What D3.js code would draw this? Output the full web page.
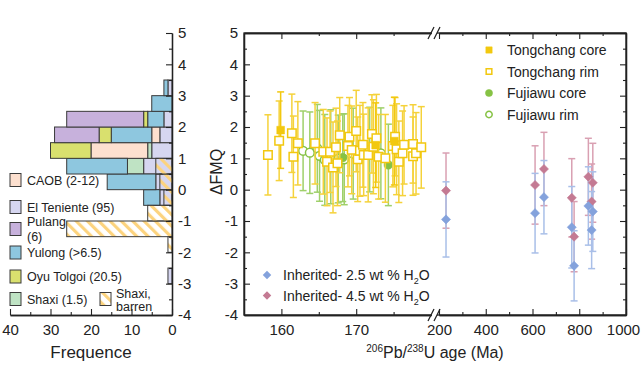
<!DOCTYPE html>
<html>
<head>
<meta charset="utf-8">
<script src="https://cdn.jsdelivr.net/npm/d3@7"></script>
<style>
  body { margin: 0; background: #fff; }
  svg { display: block; font-family: 'Liberation Sans', Arial, sans-serif; }
</style>
</head>
<body>
<div id="chart"></div>
<script>
'use strict';

// ---- histogram (bins of 0.5 in dFMQ, lower edges) ----
var binLows = [-3.0, -2.5, -2.0, -1.5, -1.0, -0.5, 0.0, 0.5, 1.0, 1.5, 2.0, 2.5, 3.0];
var elTeniente = [1, 0, 0, 0, 0, 3, 4, 7, 5, 3, 2, 0, 1];
var shaxi      = [0, 0, 0, 0, 0, 0, 0, 4, 1, 0, 0, 0, 0];
var caob       = [0, 0, 0, 0, 0, 0, 0, 0, 14, 2, 0, 0, 0];
var yulong     = [0, 0, 0, 0, 0, 4, 12, 15, 0, 10, 4, 5, 1];
var oyuTolgoi  = [0, 0, 0, 0, 0, 0, 0, 0, 10, 3, 1, 0, 0];
var pulang     = [0, 0, 0, 0, 0, 0, 0, 0, 0, 11, 19, 0, 0];
var shaxiBarren = [0, 0, 1, 26, 6, 2, 3, 4, 0, 0, 0, 0, 0];

var histKeys = ['El Teniente (95)', 'Shaxi (1.5)', 'CAOB (2-12)', 'Yulong (>6.5)', 'Oyu Tolgoi (20.5)', 'Pulang (6)'];
var histColors = ['#d6d6f0', '#bfe3c4', '#fde0cf', '#8ec7df', '#d9e06e', '#c7b1dc'];
var freqTicks = [40, 30, 20, 10, 0];
var fmqTicks = [-4, -3, -2, -1, 0, 1, 2, 3, 4, 5];

// ---- zircon data: age (Ma), dFMQ, error ----
var tcRimAge = [158.2, 159.7, 161.4, 161.6, 162.2, 164.5, 165.6, 166.1, 166.5, 166.9, 167.3, 167.5, 167.8,
  168.9, 169.1, 169.4, 170.0, 170.2, 170.5, 170.9, 171.0, 171.6, 172.1, 172.3, 172.7, 173.0, 173.9,
  174.9, 175.2, 175.4, 175.7, 176.2, 176.4, 177.6, 177.6, 178.0, 178.7];
var tcRimFmq = [1.11, 1.56, 1.80, 1.05, 1.48, 1.48, 1.21, 0.89, 1.21, 0.71, 1.35, 0.84, 1.74,
  1.39, 1.69, 1.27, 1.87, 0.97, 1.24, 1.43, 1.11, 1.11, 1.78, 1.37, 1.64, 1.05, 1.00,
  1.39, 1.69, 1.29, 0.89, 1.16, 1.43, 1.46, 1.07, 1.16, 1.35];
var tcRimErr = [1.28, 1.27, 1.25, 1.30, 1.33, 1.30, 1.35, 1.40, 1.30, 1.45, 1.25, 1.35, 1.20,
  1.30, 1.25, 1.40, 1.30, 1.35, 1.45, 1.35, 1.30, 1.50, 1.25, 1.50, 1.40, 1.35, 1.40,
  1.30, 1.25, 1.45, 1.30, 1.35, 1.25, 1.25, 1.25, 1.30, 1.30];

var tcCoreAge = [159.9, 172.6, 175.1];
var tcCoreFmq = [1.90, 1.42, 1.55];
var tcCoreErr = [1.22, 1.35, 1.40];

var fjRimAge = [162.9, 163.8, 164.8, 165.1, 165.8, 166.6, 167.6, 168.4, 169.6, 171.8, 173.3];
var fjRimFmq = [1.24, 1.18, 1.32, 1.08, 0.95, 1.05, 0.98, 0.97, 1.15, 1.28, 1.16];
var fjRimErr = [1.27, 1.30, 1.40, 1.45, 1.45, 1.50, 1.40, 1.45, 1.45, 1.35, 1.45];

var fjCoreAge = [168.2, 174.3];
var fjCoreFmq = [1.02, 0.79];
var fjCoreErr = [1.40, 1.30];

var inhAge = [230, 611, 649, 768, 778, 839, 853, 858];
var inh25Fmq = [-0.95, -0.75, -0.24, -1.20, -2.43, -0.52, -1.29, -0.70];
var inh25Err = [1.20, 1.27, 1.17, 1.30, 1.12, 1.25, 1.23, 1.27];
var inh45Fmq = [-0.03, 0.15, 0.66, -0.26, -1.50, 0.41, -0.38, 0.22];
var inh45Err = [1.20, 1.25, 1.17, 1.25, 1.12, 1.23, 1.20, 1.26];

var ageTicksLeft = [160, 170];
var ageTicksRight = [200, 400, 600, 800, 1000];

// ---- setup ----
var W = 641, H = 376;
var yellow = '#f2c80f', green = '#86c244', blue = '#84a2dc', pink = '#c47a93';
var blueErr = '#a9bfe8', pinkErr = '#d9a0b2', greenErr = '#9fd06a', yellowErr = '#f5d23a';

var svg = d3.select('#chart').append('svg').attr('width', W).attr('height', H);

var defs = svg.append('defs');
var pat = defs.append('pattern')
  .attr('id', 'hatch')
  .attr('patternUnits', 'userSpaceOnUse')
  .attr('width', 8).attr('height', 8)
  .attr('patternTransform', 'rotate(-45)');
pat.append('rect').attr('x', 0).attr('y', 0).attr('width', 3.2).attr('height', 8).attr('fill', '#fcd37e');

var y = d3.scaleLinear().domain([-4, 5]).range([315, 33]);
var xFreq = d3.scaleLinear().domain([40, 0]).range([10, 172]);
var xL = d3.scaleLinear().domain([155, 180]).range([244, 431]);
var xR = d3.scaleLinear().domain([200, 1000]).range([439, 626]);
function xAge(a) { return a >= 190 ? xR(a) : xL(a); }

function fmt(d) { return String(d); }

// ---- left: histogram ----
var rows = binLows.map(function (b, i) {
  return {
    bin: b,
    'El Teniente (95)': elTeniente[i],
    'Shaxi (1.5)': shaxi[i],
    'CAOB (2-12)': caob[i],
    'Yulong (>6.5)': yulong[i],
    'Oyu Tolgoi (20.5)': oyuTolgoi[i],
    'Pulang (6)': pulang[i]
  };
});
var stacked = d3.stack().keys(histKeys)(rows);

var hist = svg.append('g');
stacked.forEach(function (layer, k) {
  hist.selectAll(null)
    .data(layer.filter(function (d) { return d[1] > d[0]; }))
    .enter().append('rect')
    .attr('x', function (d) { return xFreq(d[1]); })
    .attr('y', function (d) { return y(d.data.bin + 0.5); })
    .attr('width', function (d) { return xFreq(d[0]) - xFreq(d[1]); })
    .attr('height', function (d) { return y(d.data.bin) - y(d.data.bin + 0.5); })
    .attr('fill', histColors[k])
    .attr('stroke', '#3a3a3a')
    .attr('stroke-width', 1);
});

// barren overlay from zero
hist.selectAll(null)
  .data(binLows.map(function (b, i) { return { bin: b, v: shaxiBarren[i] }; })
    .filter(function (d) { return d.v > 0; }))
  .enter().append('rect')
  .attr('x', function (d) { return xFreq(d.v); })
  .attr('y', function (d) { return y(d.bin + 0.5); })
  .attr('width', function (d) { return xFreq(0) - xFreq(d.v); })
  .attr('height', function (d) { return y(d.bin) - y(d.bin + 0.5); })
  .attr('fill', 'url(#hatch)')
  .attr('stroke', '#3a3a3a')
  .attr('stroke-width', 1);

// left axes
svg.append('g').attr('transform', 'translate(' + xFreq(0) + ',0)')
  .call(d3.axisRight(y).tickValues(fmqTicks).tickFormat(fmt).tickSizeInner(-6).tickSizeOuter(0).tickPadding(6));
svg.append('g').attr('transform', 'translate(' + xFreq(0) + ',0)')
  .call(d3.axisRight(y).tickValues(d3.range(-3.5, 5, 1)).tickFormat('').tickSizeInner(-3).tickSizeOuter(0));

svg.append('g').attr('transform', 'translate(0,315)')
  .call(d3.axisBottom(xFreq).tickValues(freqTicks).tickFormat(fmt).tickSizeInner(-6).tickSizeOuter(0).tickPadding(9));
svg.append('g').attr('transform', 'translate(0,315)')
  .call(d3.axisBottom(xFreq).tickValues([35, 25, 15, 5]).tickFormat('').tickSizeInner(-3).tickSizeOuter(0));

svg.append('text').attr('x', 91).attr('y', 358).attr('text-anchor', 'middle')
  .attr('font-size', 17).attr('fill', '#222').text('Frequence');

// histogram legend
var legLeft = [
  { lab: ['CAOB (2-12)'], c: '#fde0cf', y: 180 },
  { lab: ['El Teniente (95)'], c: '#d6d6f0', y: 207 },
  { lab: ['Pulang', '(6)'], c: '#c7b1dc', y: 229 },
  { lab: ['Yulong (>6.5)'], c: '#8ec7df', y: 252.5 },
  { lab: ['Oyu Tolgoi (20.5)'], c: '#d9e06e', y: 276.5 },
  { lab: ['Shaxi (1.5)'], c: '#bfe3c4', y: 299 }
];
var gl = svg.append('g');
legLeft.forEach(function (d) {
  gl.append('rect').attr('x', 10).attr('y', d.y - 6.5).attr('width', 11).attr('height', 13)
    .attr('fill', d.c).attr('stroke', '#3a3a3a').attr('stroke-width', 1);
  d.lab.forEach(function (t, i) {
    gl.append('text').attr('x', 27).attr('y', d.y + (d.lab.length > 1 ? (i - 0.5) * 15 : 0))
      .attr('dy', '0.36em').attr('font-size', 12.5).attr('fill', '#222').text(t);
  });
});
gl.append('rect').attr('x', 100).attr('y', 292.5).attr('width', 11).attr('height', 13)
  .attr('fill', 'url(#hatch)').attr('stroke', '#3a3a3a').attr('stroke-width', 1);
gl.append('text').attr('x', 116).attr('y', 293).attr('dy', '0.36em').attr('font-size', 12.5).attr('fill', '#222').text('Shaxi,');
gl.append('text').attr('x', 116).attr('y', 306).attr('dy', '0.36em').attr('font-size', 12.5).attr('fill', '#222').text('barren');

// dFMQ title
svg.append('text').attr('transform', 'translate(216,172) rotate(-90)')
  .attr('text-anchor', 'middle').attr('dy', '0.36em').attr('font-size', 16).attr('fill', '#222')
  .text('\u0394FMQ');

// ---- right: scatter frame and axes ----
var fx0 = 244, fx1 = 626, fy0 = 33, fy1 = 315;

svg.append('g').attr('transform', 'translate(' + fx0 + ',0)')
  .call(d3.axisLeft(y).tickValues(fmqTicks).tickFormat(fmt).tickSizeInner(-6).tickSizeOuter(0).tickPadding(6));
svg.append('g').attr('transform', 'translate(' + fx0 + ',0)')
  .call(d3.axisLeft(y).tickValues(d3.range(-3.5, 5, 1)).tickFormat('').tickSizeInner(-3).tickSizeOuter(0));
svg.append('g').attr('transform', 'translate(' + fx1 + ',0)')
  .call(d3.axisRight(y).tickValues(fmqTicks).tickFormat('').tickSizeInner(-6).tickSizeOuter(0));
svg.append('g').attr('transform', 'translate(' + fx1 + ',0)')
  .call(d3.axisRight(y).tickValues(d3.range(-3.5, 5, 1)).tickFormat('').tickSizeInner(-3).tickSizeOuter(0));

[[xL, ageTicksLeft, [165, 175]], [xR, ageTicksRight, [300, 500, 700, 900]]].forEach(function (s) {
  svg.append('g').attr('class', 'agex').attr('transform', 'translate(0,' + fy1 + ')')
    .call(d3.axisBottom(s[0]).tickValues(s[1]).tickFormat(fmt).tickSizeInner(-6).tickSizeOuter(0).tickPadding(9));
  svg.append('g').attr('transform', 'translate(0,' + fy1 + ')')
    .call(d3.axisBottom(s[0]).tickValues(s[2]).tickFormat('').tickSizeInner(-3).tickSizeOuter(0));
  svg.append('g').attr('transform', 'translate(0,' + fy0 + ')')
    .call(d3.axisTop(s[0]).tickValues(s[1]).tickFormat('').tickSizeInner(-6).tickSizeOuter(0));
  svg.append('g').attr('transform', 'translate(0,' + fy0 + ')')
    .call(d3.axisTop(s[0]).tickValues(s[2]).tickFormat('').tickSizeInner(-3).tickSizeOuter(0));
});

svg.append('rect').attr('x', fx0).attr('y', fy0).attr('width', fx1 - fx0).attr('height', fy1 - fy0)
  .attr('fill', 'none').attr('stroke', '#222').attr('stroke-width', 1.3);

// axis break marks
[fy0, fy1].forEach(function (yy) {
  svg.append('rect').attr('x', 432).attr('y', yy - 2).attr('width', 5).attr('height', 4).attr('fill', '#fff');
  [431, 437].forEach(function (xx) {
    svg.append('line').attr('x1', xx - 3).attr('y1', yy + 6).attr('x2', xx + 3).attr('y2', yy - 6)
      .attr('stroke', '#222').attr('stroke-width', 1.2);
  });
});

svg.selectAll('.domain').attr('stroke', '#222').attr('stroke-width', 1.3);
svg.selectAll('.tick line').attr('stroke', '#222').attr('stroke-width', 1.1);
svg.selectAll('.tick text').attr('font-size', 15).attr('fill', '#222')
  .attr('font-family', "'Liberation Sans', Arial, sans-serif");
// keep the last age label inside the picture
svg.selectAll('.agex .tick text').filter(function (d) { return d === 1000; }).attr('dx', -3);

var xt = svg.append('text').attr('x', 435).attr('y', 358).attr('text-anchor', 'middle')
  .attr('font-size', 16).attr('fill', '#222');
xt.append('tspan').attr('font-size', 10).attr('dy', -6).text('206');
xt.append('tspan').attr('dy', 6).text('Pb/');
xt.append('tspan').attr('font-size', 10).attr('dy', -6).text('238');
xt.append('tspan').attr('dy', 6).text('U age (Ma)');

// ---- scatter ----
var plot = svg.append('g');

function zip(a, f, e) {
  return a.map(function (v, i) { return { age: v, fmq: f[i], err: e[i] }; });
}

function errBars(data, color) {
  var g = plot.append('g').attr('stroke', color).attr('stroke-width', 1.5).attr('fill', 'none');
  data.forEach(function (d) {
    var x = xAge(d.age), y1 = y(d.fmq + d.err), y2 = y(d.fmq - d.err);
    g.append('line').attr('x1', x).attr('x2', x).attr('y1', y1).attr('y2', y2);
    g.append('line').attr('x1', x - 3.5).attr('x2', x + 3.5).attr('y1', y1).attr('y2', y1);
    g.append('line').attr('x1', x - 3.5).attr('x2', x + 3.5).attr('y1', y2).attr('y2', y2);
  });
}

function markers(data, shape, color, filled, size) {
  var sym = shape === 'circle' ? d3.symbolCircle : d3.symbolSquare;
  plot.append('g').selectAll('path').data(data).enter().append('path')
    .attr('d', d3.symbol().type(sym).size(size))
    .attr('transform', function (d) {
      return 'translate(' + xAge(d.age) + ',' + y(d.fmq) + ')' + (shape === 'diamond' ? ' rotate(45)' : '');
    })
    .attr('fill', filled ? color : '#fff')
    .attr('stroke', color)
    .attr('stroke-width', filled ? 0.5 : 1.5);
}

var fjRim = zip(fjRimAge, fjRimFmq, fjRimErr);
var fjCore = zip(fjCoreAge, fjCoreFmq, fjCoreErr);
var tcRim = zip(tcRimAge, tcRimFmq, tcRimErr);
var tcCore = zip(tcCoreAge, tcCoreFmq, tcCoreErr);
var inh45 = zip(inhAge, inh45Fmq, inh45Err);
var inh25 = zip(inhAge, inh25Fmq, inh25Err);

errBars(fjRim, greenErr);
errBars(fjCore, greenErr);
markers(fjRim, 'circle', green, false, 60);
markers(fjCore, 'circle', green, true, 60);
errBars(tcRim, yellowErr);
errBars(tcCore, yellow);
markers(tcRim, 'square', yellow, false, 72);
markers(tcCore, 'square', yellow, true, 60);

errBars(inh45, pinkErr);
errBars(inh25, blueErr);
markers(inh45, 'diamond', pink, true, 42);
markers(inh25, 'diamond', blue, true, 42);

// ---- legends on scatter ----
var legR = [
  { t: 'Tongchang core', s: 'square', c: yellow, f: true },
  { t: 'Tongchang rim', s: 'square', c: yellow, f: false },
  { t: 'Fujiawu core', s: 'circle', c: green, f: true },
  { t: 'Fujiawu rim', s: 'circle', c: green, f: false }
];
legR.forEach(function (d, i) {
  var yy = 50 + i * 21.5;
  svg.append('path')
    .attr('d', d3.symbol().type(d.s === 'circle' ? d3.symbolCircle : d3.symbolSquare).size(d.f ? 40 : 32))
    .attr('transform', 'translate(489,' + yy + ')')
    .attr('fill', d.f ? d.c : '#fff').attr('stroke', d.c).attr('stroke-width', d.f ? 0.5 : 1.5);
  svg.append('text').attr('x', 507).attr('y', yy).attr('dy', '0.36em')
    .attr('font-size', 14).attr('fill', '#222').text(d.t);
});

var legB = [
  { t: '2.5', c: blue, y: 275 },
  { t: '4.5', c: pink, y: 295.5 }
];
legB.forEach(function (d) {
  svg.append('path').attr('d', d3.symbol().type(d3.symbolSquare).size(36))
    .attr('transform', 'translate(267,' + d.y + ') rotate(45)').attr('fill', d.c);
  var t = svg.append('text').attr('x', 283).attr('y', d.y).attr('dy', '0.36em')
    .attr('font-size', 14).attr('fill', '#222');
  t.append('tspan').text('Inherited- ' + d.t + ' wt % H');
  t.append('tspan').attr('font-size', 9).attr('dy', 4).text('2');
  t.append('tspan').attr('dy', -4).text('O');
});
</script>
</body>
</html>
